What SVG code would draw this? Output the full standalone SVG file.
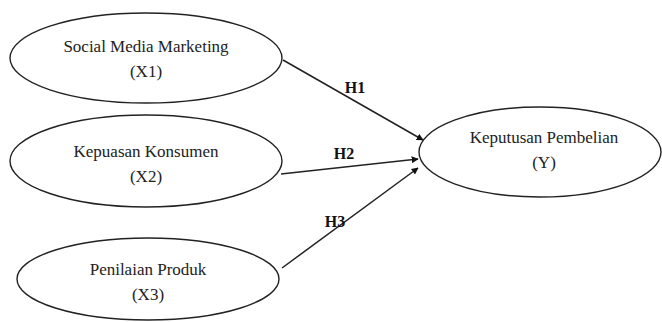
<svg xmlns="http://www.w3.org/2000/svg" width="662" height="322" viewBox="0 0 662 322">
<style>
.node ellipse{fill:#fff;stroke:#222;stroke-width:1.4}
.node text{font-family:"Liberation Serif","Times New Roman",serif;font-size:17px;fill:#222;text-anchor:middle}
.edge line{stroke:#222;stroke-width:1.5;marker-end:url(#ah)}
.lbl{font-family:"Liberation Serif","Times New Roman",serif;font-size:16px;font-weight:bold;fill:#111;text-anchor:middle}
</style>
<defs>
<marker id="ah" viewBox="0 0 10 10" refX="9" refY="5" markerWidth="7" markerHeight="7" markerUnits="userSpaceOnUse" orient="auto">
<path d="M0,0 L10,5 L0,10 z" fill="#111"/>
</marker>
</defs>
<rect width="662" height="322" fill="#fff"/>
<g id="connectors">
<g class="edge" id="e1"><line x1="283" y1="60" x2="423" y2="140"/></g>
<g class="edge" id="e2"><line x1="281" y1="174" x2="418" y2="159"/></g>
<g class="edge" id="e3"><line x1="282" y1="268" x2="418" y2="168"/></g>
<text class="lbl" x="355" y="93">H1</text>
<text class="lbl" x="344" y="159">H2</text>
<text class="lbl" x="335" y="227">H3</text>
</g>
<g class="node" id="x1">
<ellipse cx="146" cy="58" rx="136" ry="45"/>
<text x="146" y="52">Social Media Marketing</text>
<text x="146" y="77">(X1)</text>
</g>
<g class="node" id="x2">
<ellipse cx="146" cy="161" rx="136" ry="46"/>
<text x="146" y="157">Kepuasan Konsumen</text>
<text x="146" y="182">(X2)</text>
</g>
<g class="node" id="x3">
<ellipse cx="148" cy="279" rx="131" ry="41"/>
<text x="148" y="275">Penilaian Produk</text>
<text x="148" y="300">(X3)</text>
</g>
<g class="node" id="y">
<ellipse cx="540" cy="152" rx="121" ry="45"/>
<text x="544" y="143">Keputusan Pembelian</text>
<text x="544" y="168">(Y)</text>
</g>
</svg>
